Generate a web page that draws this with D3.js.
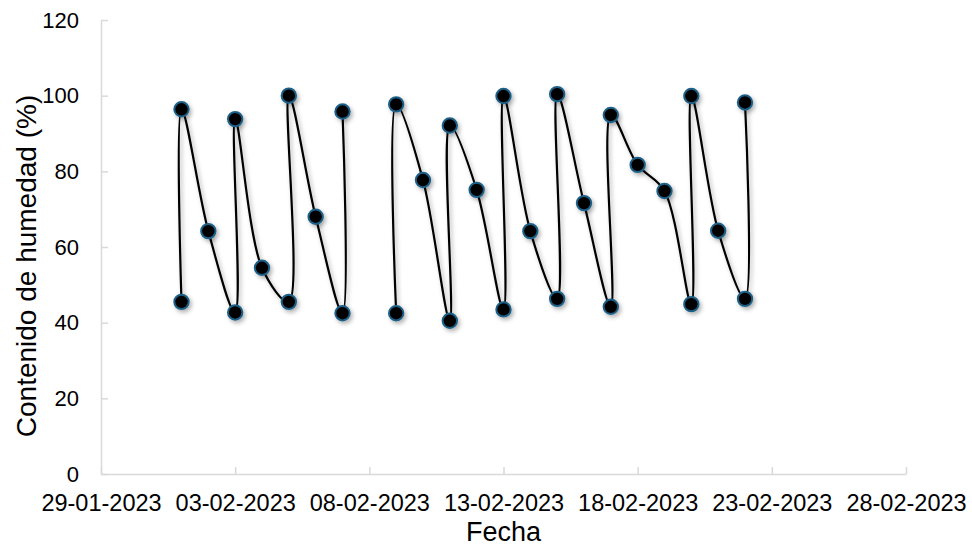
<!DOCTYPE html>
<html>
<head>
<meta charset="utf-8">
<script src="https://cdn.jsdelivr.net/npm/d3@7"></script>
<style>
  html, body { margin: 0; padding: 0; background: #fff; }
  svg { display: block; font-family: "Liberation Sans", Arial, sans-serif; }
</style>
</head>
<body>
<svg id="chart" width="972" height="547"></svg>
<script>
// ---- data ----
const fechas = [
  "01-02-2023","01-02-2023","02-02-2023","03-02-2023","03-02-2023","04-02-2023",
  "05-02-2023","05-02-2023","06-02-2023","07-02-2023","07-02-2023",
  "08-02-2023",
  "09-02-2023","09-02-2023","10-02-2023","11-02-2023","11-02-2023","12-02-2023",
  "13-02-2023","13-02-2023","14-02-2023","15-02-2023","15-02-2023","16-02-2023",
  "17-02-2023","17-02-2023","18-02-2023","19-02-2023","20-02-2023","20-02-2023",
  "21-02-2023","22-02-2023","22-02-2023"
];
const humedad = [
  45.5, 96.4, 64.2, 42.7, 93.8, 54.5,
  45.5, 100.0, 68.0, 42.5, 95.8,
  null,
  42.5, 97.7, 77.7, 40.5, 92.1, 75.1,
  43.5, 99.9, 64.2, 46.3, 100.4, 71.6,
  44.2, 94.9, 81.7, 74.8, 44.9, 99.9,
  64.3, 46.3, 98.2
];
const xTickLabels = ["29-01-2023","03-02-2023","08-02-2023","13-02-2023","18-02-2023","23-02-2023","28-02-2023"];
const yTicks = [0, 20, 40, 60, 80, 100, 120];
const xDomain = ["29-01-2023", "28-02-2023"];
const yDomain = [0, 120];

// ---- layout ----
(function () {
const parse = d3.timeParse("%d-%m-%Y");
const fmt = d3.timeFormat("%d-%m-%Y");
const mLeft = 101, mRight = 906, mTop = 20, mBottom = 474;
const axisColor = "#d9d9d9";

const svg = d3.select("#chart");

const x = d3.scaleTime().domain(xDomain.map(parse)).range([mLeft, mRight]);
const y = d3.scaleLinear().domain(yDomain).range([mBottom, mTop]);

const data = fechas.map((f, i) => ({ date: parse(f), v: humedad[i] }));

// shadow filter
const defs = svg.append("defs");
const filt = defs.append("filter").attr("id", "shadow")
  .attr("x", "-50%").attr("y", "-50%").attr("width", "200%").attr("height", "200%");
filt.append("feDropShadow").attr("dx", 2).attr("dy", 2.5).attr("stdDeviation", 2)
  .attr("flood-color", "#000").attr("flood-opacity", 0.3);

// y axis
const yAxis = d3.axisLeft(y).tickValues(yTicks).tickSizeInner(-7).tickSizeOuter(0).tickPadding(22);
const gy = svg.append("g").attr("transform", `translate(${mLeft},0)`).call(yAxis);
gy.select(".domain").attr("stroke", axisColor).attr("stroke-width", 1.5);
gy.selectAll(".tick line").attr("stroke", axisColor).attr("stroke-width", 1.5);
gy.selectAll(".tick text").attr("fill", "#000").style("font-size", "22px")
  .style("font-family", "'Liberation Sans', Arial, sans-serif");

// x axis
const xAxis = d3.axisBottom(x).tickValues(xTickLabels.map(parse)).tickFormat(fmt)
  .tickSizeInner(-7).tickSizeOuter(0).tickPadding(20);
const gx = svg.append("g").attr("transform", `translate(0,${mBottom})`).call(xAxis);
gx.select(".domain").attr("stroke", axisColor).attr("stroke-width", 1.5);
gx.selectAll(".tick line").attr("stroke", axisColor).attr("stroke-width", 1.5);
gx.selectAll(".tick text").attr("fill", "#000").style("font-size", "23.5px")
  .style("font-family", "'Liberation Sans', Arial, sans-serif");

// line
const line = d3.line()
  .defined(d => d.v != null)
  .x(d => x(d.date)).y(d => y(d.v))
  .curve(d3.curveCatmullRom.alpha(0.5));

svg.append("path").datum(data)
  .attr("d", line)
  .attr("fill", "none").attr("stroke", "#000").attr("stroke-width", 2.2)
  .attr("filter", "url(#shadow)");

// markers
svg.append("g").selectAll("circle")
  .data(data.filter(d => d.v != null))
  .join("circle")
  .attr("cx", d => x(d.date)).attr("cy", d => y(d.v))
  .attr("r", 7.2)
  .attr("fill", "#000").attr("stroke", "#1f6188").attr("stroke-width", 2)
  .attr("filter", "url(#shadow)");

// axis titles
svg.append("text")
  .attr("x", (mLeft + mRight) / 2).attr("y", 541)
  .attr("text-anchor", "middle")
  .style("font-size", "27px").attr("fill", "#000")
  .text("Fecha");

svg.append("text")
  .attr("transform", `translate(36,266) rotate(-90)`)
  .attr("text-anchor", "middle")
  .style("font-size", "28px").attr("fill", "#000")
  .text("Contenido de humedad (%)");
})();
</script>
</body>
</html>
